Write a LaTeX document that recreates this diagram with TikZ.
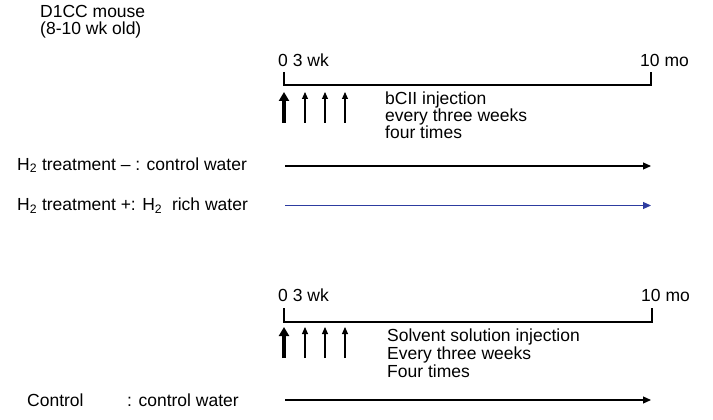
\documentclass[tikz,border=0pt]{standalone}
\usepackage{fontspec}
\setmainfont{Liberation Sans}
\usetikzlibrary{arrows.meta}

\definecolor{h2blue}{RGB}{45,60,160}

\tikzset{
  lbl/.style={anchor=base west, inner sep=0pt, font=\fontsize{17.5}{17}\selectfont},
  block/.style={anchor=north west, inner sep=0pt, align=left},
  axis/.style={line width=1.2pt},
  dose/.style={line width=1.1pt, -{Triangle[length=7pt,width=6pt]}},
  firstdose/.style={line width=4.5pt, -{Triangle[length=9pt,width=10pt]}},
  water/.style={line width=1.1pt, -{Triangle[length=8pt,width=7pt]}}
}

\begin{document}
\begin{tikzpicture}[x=1pt,y=-1pt]
\useasboundingbox (0,0) rectangle (713,420);

\node[lbl] (mouse) at (40,18) {D1CC mouse};
\node[lbl] (age) at (40,35) {(8-10 wk old)};

% bCII schedule
\coordinate (T0) at (284,72);
\coordinate (T1) at (284,85);
\coordinate (T2) at (651,85);
\coordinate (T3) at (651,72);
\draw[axis] (T0) -- (T1) -- (T2) -- (T3);
\node[lbl] (Tstart) at (278,66.5) {0 3 wk};
\node[lbl] (Tend) at (640,66.5) {10 mo};

\coordinate (D0b) at (284,123);
\coordinate (D0t) at (284,92);
\draw[firstdose] (D0b) -- (D0t);
\foreach \i/\x in {1/305,2/325,3/345} {
  \coordinate (D\i b) at (\x,123);
  \coordinate (D\i t) at (\x,92);
  \draw[dose] (D\i b) -- (D\i t);
}
\node[lbl, block, font=\fontsize{17.5}{17}\selectfont] (bcii) at (385,92)
  {bCII injection\\every three weeks\\four times};

% water rows
\node[lbl] (neg) at (17,170) {H\textsubscript{2} treatment -- : control water};
\coordinate (N0) at (285,166);
\coordinate (N1) at (651,166);
\draw[water] (N0) -- (N1);

\node[lbl] (pos) at (17,210.5) {H\textsubscript{2} treatment +: H\textsubscript{2}\ \ rich water};
\coordinate (P0) at (285,205.5);
\coordinate (P1) at (651,205.5);
\draw[water, h2blue] (P0) -- (P1);

% solvent schedule
\coordinate (S0) at (284,308);
\coordinate (S1) at (284,322);
\coordinate (S2) at (652,322);
\coordinate (S3) at (652,308);
\draw[axis] (S0) -- (S1) -- (S2) -- (S3);
\node[lbl] (Sstart) at (278,301.5) {0 3 wk};
\node[lbl] (Send) at (641,301.5) {10 mo};

\coordinate (E0b) at (284,358);
\coordinate (E0t) at (284,327);
\draw[firstdose] (E0b) -- (E0t);
\foreach \i/\x in {1/305,2/325,3/345} {
  \coordinate (E\i b) at (\x,358);
  \coordinate (E\i t) at (\x,327);
  \draw[dose] (E\i b) -- (E\i t);
}
\node[lbl, block, font=\fontsize{17.5}{18}\selectfont] (solv) at (387,329)
  {Solvent solution injection\\Every three weeks\\Four times};

\node[lbl] (ctrl) at (27,406.5) {Control};
\node[lbl] (ctrlw) at (127,406.5) {: control water};
\coordinate (C0) at (285,400);
\coordinate (C1) at (651,400);
\draw[water] (C0) -- (C1);

\end{tikzpicture}
\end{document}
